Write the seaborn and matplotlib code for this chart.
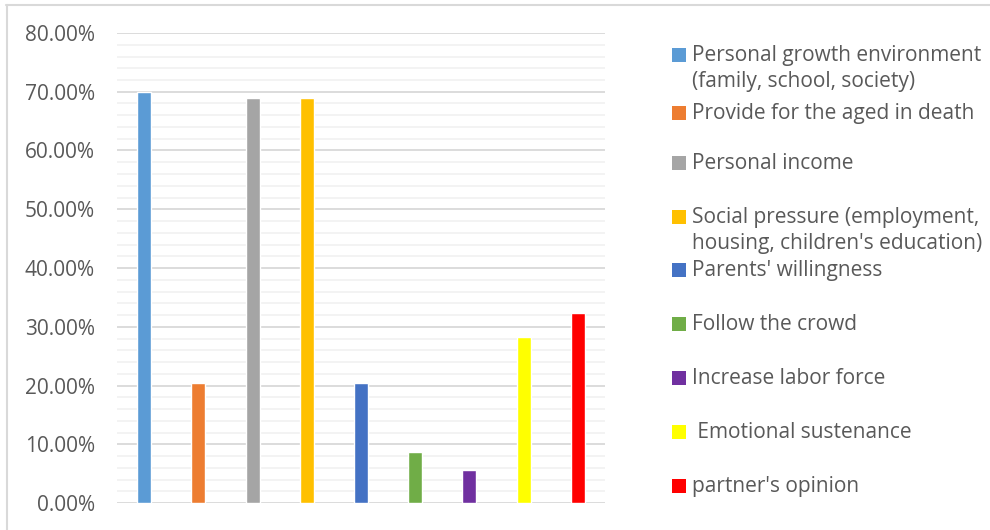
import matplotlib
matplotlib.use("Agg")
import matplotlib.pyplot as plt
from matplotlib.lines import Line2D
from matplotlib.patches import Rectangle
from matplotlib.ticker import MultipleLocator, PercentFormatter
import seaborn as sns
import pandas as pd

# Survey: reasons influencing fertility decisions (share of respondents)
categories = [
    "Personal growth environment\n(family, school, society)",
    "Provide for the aged in death",
    "Personal income",
    "Social pressure (employment,\nhousing, children's education)",
    "Parents' willingness",
    "Follow the crowd",
    "Increase labor force",
    " Emotional sustenance",
    "partner's opinion",
]
shares = [0.700, 0.204, 0.689, 0.689, 0.204, 0.087, 0.056, 0.283, 0.323]
colors = ["#5B9BD5", "#ED7D31", "#A5A5A5", "#FFC000", "#4472C4",
          "#70AD47", "#7030A0", "#FFFF00", "#FF0000"]
y_ticks = [0.0, 0.1, 0.2, 0.3, 0.4, 0.5, 0.6, 0.7, 0.8]

df = pd.DataFrame({"reason": categories, "share": shares})

sns.set_theme(style="white")
plt.rcParams["font.family"] = ["Open Sans", "DejaVu Sans"]
TEXT = "#595959"
FS = 15

W, H = 990, 530
fig = plt.figure(figsize=(W / 100, H / 100), dpi=100)
fig.patch.set_facecolor("white")
ax = fig.add_axes([117 / W, 1 - 503 / H, (605 - 117) / W, (503 - 33) / H])

sns.barplot(data=df, x="reason", y="share", hue="reason",
            palette=colors, width=0.26, saturation=1, legend=False, ax=ax)

ax.set_ylim(min(y_ticks), max(y_ticks))
ax.set_xlim(-0.5, len(categories) - 0.5)
ax.yaxis.set_major_locator(MultipleLocator(0.1))
ax.yaxis.set_minor_locator(MultipleLocator(0.02))
ax.yaxis.set_major_formatter(PercentFormatter(1.0, decimals=2))
ax.grid(which="minor", axis="y", color="#F2F2F2", linewidth=1.3, zorder=0)
ax.grid(which="major", axis="y", color="#D9D9D9", linewidth=1.3, zorder=0)
ax.set_axisbelow(True)
ax.tick_params(axis="y", which="both", length=0, pad=16, labelsize=FS, labelcolor=TEXT)
ax.tick_params(axis="x", length=0, labelbottom=False)
ax.set_xlabel("")
ax.set_ylabel("")
for s in ax.spines.values():
    s.set_visible(False)

# Legend drawn as colored squares with wrapped labels on the right
row_y = [55.3, 113, 163.3, 217, 269.7, 323.7, 378, 432.3, 486]
line_gap = 26
for label, col, yc in zip(categories, colors, row_y):
    fig.add_artist(Rectangle((672 / W, 1 - (yc + 7) / H), 14 / W, 14 / H,
                             transform=fig.transFigure, facecolor=col,
                             edgecolor="none"))
    for j, line in enumerate(label.split("\n")):
        fig.text(692 / W, 1 - (yc + 6 + j * line_gap) / H, line,
                 fontsize=FS, color=TEXT, ha="left", va="baseline")

# Chart area frame (top and left edges visible)
fig.add_artist(Line2D([6 / W, 1], [1 - 4.5 / H, 1 - 4.5 / H],
                      transform=fig.transFigure, color="#D9D9D9", linewidth=1.5))
fig.add_artist(Line2D([6.5 / W, 6.5 / W], [0, 1 - 4.5 / H],
                      transform=fig.transFigure, color="#D9D9D9", linewidth=1.5))

fig.savefig("out.png", dpi=100)
